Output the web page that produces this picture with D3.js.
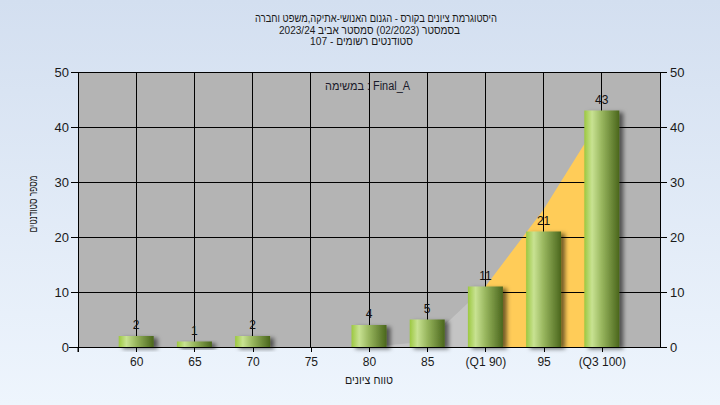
<!DOCTYPE html>
<html><head><meta charset="utf-8">
<script src="https://cdnjs.cloudflare.com/ajax/libs/d3/7.8.5/d3.min.js"></script>
<style>
html,body{margin:0;padding:0;background:#fff;}
svg{display:block;font-family:"Liberation Sans",Arial,"DejaVu Sans",sans-serif;}
</style></head>
<body>
<svg id="chart" width="720" height="405"></svg>
<script>
const categories = ["60","65","70","75","80","85","(Q1 90)","95","(Q3 100)"];
const counts = [2,1,2,0,4,5,11,21,43];
const belowQ1Area = [0,0,0,0,0,1,11,null,null];
const q1q3Area = [null,null,null,null,null,null,11,25,42];
const yTicks = [0,10,20,30,40,50];
const titleLines = [
  "היסטוגרמת ציונים בקורס - הגנום האנושי-אתיקה,משפט וחברה",
  "בסמסטר  (02/2023)  סמסטר אביב 2023/24",
  "סטודנטים רשומים - 107"
];
const taskLabel = "במשימה : Final_A";
const xTitle = "טווח ציונים";
const yTitle = "מספר סטודנטים";

(function(){
const W = 720, H = 405;
const pL = 78, pR = 660, pT = 72, pB = 347;
const svg = d3.select("#chart");
const defs = svg.append("defs");

const bgG = defs.append("linearGradient").attr("id","bg").attr("x1",0).attr("y1",0).attr("x2",0).attr("y2",1);
bgG.append("stop").attr("offset","0%").attr("stop-color","#d3dff0");
bgG.append("stop").attr("offset","100%").attr("stop-color","#eef5fd");

const barG = defs.append("linearGradient").attr("id","bar").attr("x1",0).attr("y1",0).attr("x2",1).attr("y2",0);
[["0%","#9cc840"],["22%","#c8e292"],["50%","#98b65e"],["100%","#4a661c"]].forEach(s=>
  barG.append("stop").attr("offset",s[0]).attr("stop-color",s[1]));

const sh = defs.append("filter").attr("id","shadow").attr("x","-20%").attr("y","-20%").attr("width","160%").attr("height","160%");
sh.append("feDropShadow").attr("dx",4).attr("dy",2).attr("stdDeviation",2).attr("flood-color","#000").attr("flood-opacity",0.55);

svg.append("rect").attr("width",W).attr("height",H).attr("fill","url(#bg)");

const x = d3.scalePoint().domain(categories).range([pL,pR]).padding(1);
const y = d3.scaleLinear().domain([0,50]).range([pB,pT]);

svg.append("rect").attr("x",pL).attr("y",pT).attr("width",pR-pL).attr("height",pB-pT).attr("fill","#b4b4b4");

// areas
const area = d3.area().defined(d=>d.v!==null).x(d=>x(d.c)).y0(y(0)).y1(d=>y(d.v));
svg.append("path").datum(categories.map((c,i)=>({c,v:belowQ1Area[i]})))
  .attr("d",area).attr("fill","#c4c4c4");
svg.append("path").datum(categories.map((c,i)=>({c,v:q1q3Area[i]})))
  .attr("d",area).attr("fill","#ffcc58");

// gridlines
const grid = svg.append("g").attr("stroke","#000").attr("stroke-width",1).attr("shape-rendering","crispEdges");
yTicks.filter(t=>t>0).forEach(t=>grid.append("line").attr("x1",pL).attr("x2",pR).attr("y1",y(t)).attr("y2",y(t)));
categories.forEach(c=>grid.append("line").attr("x1",x(c)).attr("x2",x(c)).attr("y1",pT).attr("y2",pB));

// bars
const bw = 35;
svg.append("g").selectAll("rect").data(categories.map((c,i)=>({c,v:counts[i]})).filter(d=>d.v>0))
  .join("rect")
  .attr("x",d=>x(d.c)-bw/2).attr("width",bw)
  .attr("y",d=>y(d.v)).attr("height",d=>y(0)-y(d.v))
  .attr("fill","url(#bar)").attr("filter","url(#shadow)");

// labels
svg.append("g").selectAll("text").data(categories.map((c,i)=>({c,v:counts[i]})).filter(d=>d.v>0))
  .join("text")
  .attr("x",d=>x(d.c)).attr("y",d=>y(d.v)-7)
  .attr("text-anchor","middle").attr("font-size",12).attr("fill","#111")
  .text(d=>d.v);

// axes
const axL = d3.axisLeft(y).tickValues(yTicks).tickSize(7).tickPadding(2);
const gL = svg.append("g").attr("transform",`translate(${pL},0)`).call(axL);
const axR = d3.axisRight(y).tickValues(yTicks).tickSize(7).tickPadding(3);
const gR = svg.append("g").attr("transform",`translate(${pR},0)`).call(axR);
const axB = d3.axisBottom(x).tickSize(5).tickPadding(5);
const gB = svg.append("g").attr("transform",`translate(0,${pB})`).call(axB);
[gL,gR,gB].forEach(g=>{
  g.selectAll("path.domain").attr("stroke","#000").attr("shape-rendering","crispEdges");
  g.selectAll(".tick line").attr("stroke","#000").attr("shape-rendering","crispEdges");
  g.selectAll("text").attr("font-size",13).attr("fill","#1a1a1a")
    .attr("font-family","\"Liberation Sans\",Arial,sans-serif");
});
gB.selectAll("text").attr("font-size",12);
gB.select("path.domain").attr("d",`M${pL-9},0.5H${pR+7}M${pL},0V5`);
svg.append("line").attr("x1",pL).attr("x2",pL).attr("y1",pB).attr("y2",pB+5).attr("stroke","#000");

// top border
svg.append("line").attr("x1",pL).attr("x2",pR).attr("y1",pT).attr("y2",pT).attr("stroke","#000").attr("shape-rendering","crispEdges");

// titles
const tx = [376,369.5,361.5];
const ty = [22,33.5,45];
const tw = [242,181,103];
titleLines.forEach((t,i)=>svg.append("text").attr("x",tx[i]).attr("y",ty[i])
  .attr("text-anchor","middle").attr("font-size",11.5).attr("fill","#1a1a1a")
  .attr("textLength",tw[i]).attr("lengthAdjust","spacingAndGlyphs").text(t));

svg.append("text").attr("x",367.5).attr("y",90).attr("text-anchor","middle")
  .attr("font-size",12).attr("fill","#1a1a2a")
  .attr("textLength",85).attr("lengthAdjust","spacingAndGlyphs").text(taskLabel);

svg.append("text").attr("x",369).attr("y",384).attr("text-anchor","middle")
  .attr("font-size",12).attr("fill","#1a1a1a")
  .attr("textLength",48).attr("lengthAdjust","spacingAndGlyphs").text(xTitle);

svg.append("text").attr("transform","translate(37,204) rotate(-90)").attr("text-anchor","middle")
  .attr("font-size",12).attr("fill","#1a1a1a")
  .attr("textLength",57).attr("lengthAdjust","spacingAndGlyphs").text(yTitle);
})();
</script>
</body></html>
